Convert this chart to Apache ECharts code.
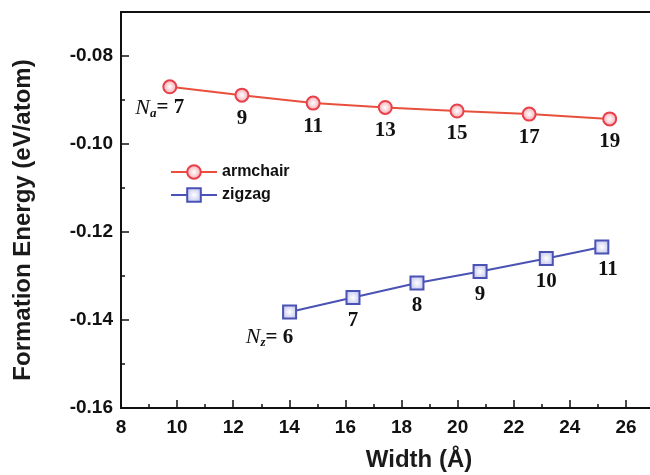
<!DOCTYPE html>
<html>
<head>
<meta charset="utf-8">
<script src="https://cdn.jsdelivr.net/npm/echarts@6/dist/echarts.min.js"></script>
<style>
  html, body { margin: 0; padding: 0; background: #fff; }
  #chart { width: 650px; height: 475px; }
</style>
</head>
<body>
<div id="chart"></div>
<script>
// widths (Å) and formation energies (eV/atom)
const armchairWidth = [9.74, 12.31, 14.85, 17.42, 19.98, 22.55, 25.42];
const armchairEnergy = [-0.0870, -0.0889, -0.0907, -0.0917, -0.0925, -0.0932, -0.0943];
const armchairN = ['7', '9', '11', '13', '15', '17', '19'];

const zigzagWidth = [14.01, 16.27, 18.55, 20.8, 23.16, 25.14];
const zigzagEnergy = [-0.1382, -0.1349, -0.1316, -0.1290, -0.1260, -0.1234];
const zigzagN = ['6', '7', '8', '9', '10', '11'];

const xTicks = [8, 10, 12, 14, 16, 18, 20, 22, 24, 26];
const yTicks = [-0.16, -0.14, -0.12, -0.10, -0.08];

const serif = '"Liberation Serif", "DejaVu Serif", serif';
const sans = '"Liberation Sans", Arial, sans-serif';

const numRich = {
  num: { fontFamily: serif, fontWeight: 'bold', fontSize: 21, color: '#111' },
  n: { fontFamily: serif, fontStyle: 'italic', fontSize: 22, color: '#111' },
  sub: { fontFamily: serif, fontStyle: 'italic', fontWeight: 'bold', fontSize: 13, color: '#111', padding: [12, 0, 0, 0] },
};

const buildData = (xs, ys, ns, sub, firstOffset, lastOffset) =>
  xs.map((x, i) => ({
    value: [x, ys[i]],
    label: {
      formatter: i === 0 ? `{n|N}{sub|${sub}}{num|= ${ns[i]}}` : `{num|${ns[i]}}`,
      offset: i === 0 ? firstOffset : i === xs.length - 1 ? lastOffset : [0, 0],
    },
  }));

const chart = echarts.init(document.getElementById('chart'));

chart.setOption({
  animation: false,
  backgroundColor: '#fff',
  grid: {
    left: 121,
    right: -4,
    top: 12,
    bottom: 67,
    outerBoundsMode: 'none',
    show: true,
    borderColor: '#111',
    borderWidth: 2,
  },
  legend: {
    orient: 'vertical',
    left: 170,
    top: 164,
    padding: 0,
    itemWidth: 46,
    itemHeight: 17,
    itemGap: 7,
    textStyle: { fontFamily: sans, fontWeight: 'bold', fontSize: 16, color: '#111' },
    data: ['armchair', 'zigzag'],
  },
  xAxis: {
    type: 'value',
    min: 8,
    max: 27,
    interval: 2,
    axisLine: { lineStyle: { color: '#111', width: 2 } },
    axisTick: { inside: true, length: 8, lineStyle: { color: '#111', width: 1.5 } },
    minorTick: { show: true, splitNumber: 2, length: 4, lineStyle: { color: '#111', width: 1.5 } },
    splitLine: { show: false },
    axisLabel: {
      showMaxLabel: false,
      margin: 10,
      fontFamily: sans,
      fontWeight: 'bold',
      fontSize: 19,
      color: '#111',
      formatter: (v) => (xTicks.includes(v) ? String(v) : ''),
    },
  },
  yAxis: {
    type: 'value',
    min: -0.16,
    max: -0.07,
    interval: 0.02,
    axisLine: { lineStyle: { color: '#111', width: 2 } },
    axisTick: { inside: true, length: 8, lineStyle: { color: '#111', width: 1.5 } },
    minorTick: { show: true, splitNumber: 2, length: 4, lineStyle: { color: '#111', width: 1.5 } },
    splitLine: { show: false },
    axisLabel: {
      showMaxLabel: false,
      margin: 8,
      fontFamily: sans,
      fontWeight: 'bold',
      fontSize: 19,
      color: '#111',
      formatter: (v) => {
        const t = yTicks.find((y) => Math.abs(y - v) < 1e-6);
        return t === undefined ? '' : t.toFixed(2);
      },
    },
  },
  graphic: [
    {
      type: 'text',
      x: 23,
      y: 220,
      rotation: Math.PI / 2,
      style: {
        text: 'Formation Energy (eV/atom)',
        fontFamily: sans,
        fontWeight: 'bold',
        fontSize: 24,
        fill: '#1a1a1a',
        align: 'center',
        verticalAlign: 'middle',
      },
      silent: true,
    },
    {
      type: 'text',
      x: 419,
      y: 460,
      style: {
        text: 'Width (Å)',
        fontFamily: sans,
        fontWeight: 'bold',
        fontSize: 24,
        fill: '#1a1a1a',
        align: 'center',
        verticalAlign: 'middle',
      },
      silent: true,
    },
  ],
  series: [
    {
      name: 'armchair',
      type: 'line',
      data: buildData(armchairWidth, armchairEnergy, armchairN, 'a', [-10, -4], [0, 0]),
      symbol: 'circle',
      symbolSize: 13,
      lineStyle: { color: '#e8503c', width: 2 },
      itemStyle: {
        borderColor: '#e8404a',
        borderWidth: 2,
        color: {
          type: 'radial', x: 0.5, y: 0.5, r: 0.5,
          colorStops: [{ offset: 0, color: '#ffffff' }, { offset: 1, color: '#f5a3ab' }],
        },
      },
      label: { show: true, position: 'bottom', distance: 5, rich: numRich },
      z: 3,
    },
    {
      name: 'zigzag',
      type: 'line',
      data: buildData(zigzagWidth, zigzagEnergy, zigzagN, 'z', [-20, 0], [6, 0]),
      symbol: 'rect',
      symbolSize: 13,
      lineStyle: { color: '#4a52b4', width: 2 },
      itemStyle: {
        borderColor: '#4a52b4',
        borderWidth: 2,
        color: {
          type: 'radial', x: 0.5, y: 0.5, r: 0.6,
          colorStops: [{ offset: 0, color: '#ffffff' }, { offset: 1, color: '#b9bcec' }],
        },
      },
      label: { show: true, position: 'bottom', distance: 5, rich: numRich },
      z: 3,
    },
  ],
});
</script>
</body>
</html>
